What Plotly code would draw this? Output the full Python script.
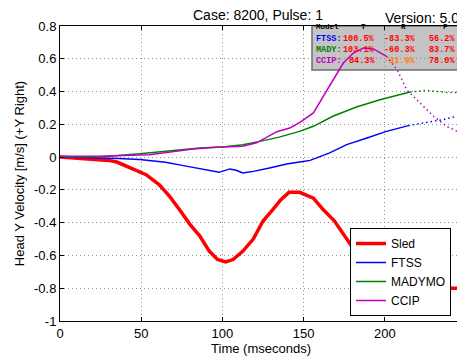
import plotly.graph_objects as go

# --- data (time in ms, head Y velocity in m/s) ---
sled_t = [0, 10, 20, 30, 35, 43, 53, 61, 67.5, 73.5, 80, 86, 92, 97, 102, 106.5, 112.5,
          119, 125, 131, 136, 141, 147.5, 156, 162, 169, 175.5, 180, 190, 200, 210,
          220, 230, 240, 247.5]
sled_v = [0, -0.005, -0.01, -0.02, -0.03, -0.066, -0.107, -0.168, -0.24, -0.32, -0.41,
          -0.48, -0.575, -0.625, -0.64, -0.625, -0.575, -0.5, -0.39, -0.32, -0.26,
          -0.215, -0.215, -0.25, -0.32, -0.39, -0.48, -0.55, -0.66, -0.74, -0.79,
          -0.81, -0.81, -0.8, -0.8]

ftss_t = [0, 24, 36, 49, 65, 76, 86, 98, 104.5, 108.5, 112.5, 119, 129, 139.5, 147.5,
          154, 166, 176.5, 189, 201, 214.5]
ftss_v = [0, -0.005, -0.008, -0.015, -0.032, -0.052, -0.072, -0.093, -0.072, -0.08,
          -0.097, -0.087, -0.066, -0.042, -0.03, -0.02, 0.026, 0.076, 0.117, 0.157, 0.192]
ftss_ext_t = [214.5, 224, 236, 244, 247.5]
ftss_ext_v = [0.192, 0.208, 0.229, 0.249, 0.25]

mady_t = [0, 24, 49, 65, 86, 100, 112.5, 123, 135, 147.5, 156, 168, 182.5, 197, 211.5, 215.5]
mady_v = [0, 0, 0.02, 0.035, 0.056, 0.062, 0.076, 0.096, 0.122, 0.157, 0.188, 0.249,
          0.306, 0.35, 0.387, 0.397]
mady_ext_t = [215.5, 226, 238, 247.5]
mady_ext_v = [0.397, 0.407, 0.395, 0.395]

ccip_t = [0, 24, 55, 82, 96, 112.5, 121, 127, 133.5, 141.5, 147.5, 156, 162, 168.3,
          174.4, 180.6, 186.8, 193, 201]
ccip_v = [0.005, 0.005, 0.015, 0.05, 0.06, 0.066, 0.087, 0.121, 0.155, 0.178, 0.21,
          0.27, 0.371, 0.473, 0.574, 0.635, 0.666, 0.66, 0.615]
ccip_ext_t = [201, 207.5, 213.5, 222, 230, 238, 246.5]
ccip_ext_v = [0.615, 0.534, 0.41, 0.33, 0.249, 0.188, 0.148]

x_ticks = [0, 50, 100, 150, 200]
y_ticks = [0.8, 0.6, 0.4, 0.2, 0, -0.2, -0.4, -0.6, -0.8, -1]
y_tick_text = ["0.8", "0.6", "0.4", "0.2", "0", "-0.2", "-0.4", "-0.6", "-0.8", "-1"]

# stats table in the corner: model label, then T / R / F scores
stat_models = ["FTSS:", "MADY:", "CCIP:"]
stat_T = ["100.5%", "103.1%", "84.3%"]
stat_R = ["-83.3%", "-60.3%", "-31.9%"]
stat_F = ["56.2%", "83.7%", "78.0%"]

FONT = "Liberation Sans, Arial, sans-serif"
MONO = "Liberation Mono, Courier New, monospace"
RED, BLUE, GREEN, MAG = "#ff0000", "#0000ff", "#008000", "#c000c0"

fig = go.Figure()

fig.add_trace(go.Scatter(x=sled_t, y=sled_v, mode="lines", name="Sled",
                         line=dict(color=RED, width=3.5)))
fig.add_trace(go.Scatter(x=ftss_t, y=ftss_v, mode="lines", name="FTSS",
                         line=dict(color=BLUE, width=1.5)))
fig.add_trace(go.Scatter(x=mady_t, y=mady_v, mode="lines", name="MADYMO",
                         line=dict(color=GREEN, width=1.5)))
fig.add_trace(go.Scatter(x=ccip_t, y=ccip_v, mode="lines", name="CCIP",
                         line=dict(color=MAG, width=1.5)))

# dotted tails past the end of the solid data
for t, v, c in [(ftss_ext_t, ftss_ext_v, BLUE), (mady_ext_t, mady_ext_v, GREEN),
                (ccip_ext_t, ccip_ext_v, MAG)]:
    fig.add_trace(go.Scatter(x=t, y=v, mode="lines", showlegend=False, hoverinfo="skip",
                             line=dict(color=c, width=1.5, dash="1.5px,3px")))


# the page body adds an 8px offset; reference pixels are mapped to paper coords
# relative to the plot area (ref px 60..462 across, 26..321 down)
def px_x(px):
    return (px - 60) / 402


def px_y(py):
    return (321 - py) / 295


# gray stats box (under the curves, over the grid)
fig.add_shape(type="rect", xref="paper", yref="paper", x0=px_x(312), x1=1.0,
              y0=px_y(70), y1=1.0,
              fillcolor="#c4c4c4", line=dict(color="#6e6e6e", width=1.5), layer="between")


def cell(text, x, y, color, anchor="left", size=8.5):
    fig.add_annotation(text=text, xref="paper", yref="paper", x=px_x(x), y=px_y(y),
                       xanchor=anchor, yanchor="middle", showarrow=False,
                       font=dict(family=MONO, size=size, color=color, weight="bold"))


cell("Model", 314, 27, "black", size=7.5)
cell("T", 363, 27, "black", "center", size=7.5)
cell("R", 403, 27, "black", "center", size=7.5)
cell("F", 445, 27, "black", "center", size=7.5)
row_y = [38.5, 50, 61]
label_colors = [BLUE, GREEN, MAG]
for i in range(3):
    cell(stat_models[i], 314, row_y[i], label_colors[i])
    cell(stat_T[i], 377, row_y[i], RED, "right")
    cell(stat_R[i], 417.5, row_y[i], "#ff8000" if i == 2 else RED, "right")
    cell(stat_F[i], 457, row_y[i], RED, "right")

fig.add_annotation(text="Case: 8200, Pulse: 1", xref="paper", yref="paper",
                   x=px_x(258), y=px_y(15), xanchor="center", yanchor="middle",
                   showarrow=False, font=dict(family=FONT, size=14, color="black"))
fig.add_annotation(text="Version: 5.0", xref="paper", yref="paper",
                   x=px_x(461), y=px_y(18), xanchor="right", yanchor="middle",
                   showarrow=False, font=dict(family=FONT, size=14, color="black"))

axis_common = dict(showline=True, linecolor="black", linewidth=1, mirror="ticks",
                   ticks="inside", ticklen=4, tickcolor="black", showgrid=True,
                   gridcolor="#909090", griddash="1px,3px", gridwidth=1, zeroline=False,
                   tickfont=dict(family=FONT, size=13, color="black"))

fig.update_layout(
    width=457, height=352,
    margin=dict(l=52, r=3, t=18, b=39),
    paper_bgcolor="white", plot_bgcolor="white",
    font=dict(family=FONT, size=13, color="black"),
    xaxis=dict(range=[0, 247.5], tickvals=x_ticks,
               title=dict(text="Time (mseconds)", standoff=3,
                          font=dict(family=FONT, size=13)),
               **axis_common),
    yaxis=dict(range=[-1, 0.8], tickvals=y_ticks, ticktext=y_tick_text,
               title=dict(text="Head Y Velocity [m/s] (+Y Right)", standoff=6,
                          font=dict(family=FONT, size=13)),
               **axis_common),
    legend=dict(x=px_x(451), y=px_y(316), xanchor="right", yanchor="bottom",
                bgcolor="white", bordercolor="black", borderwidth=1,
                font=dict(family=FONT, size=12, color="black"),
                tracegroupgap=0, itemwidth=30),
    showlegend=True,
)

fig.write_html("out.html")
